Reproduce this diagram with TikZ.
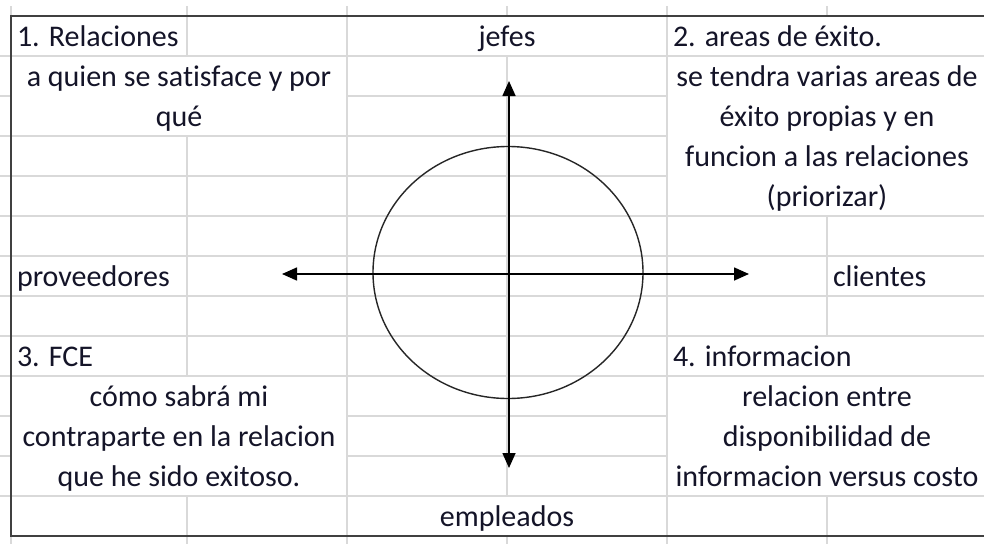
\documentclass[tikz,border=0pt]{standalone}
\usepackage{fontspec}
\setmainfont{Carlito}[Ligatures=NoCommon]
\usetikzlibrary{arrows.meta,shapes.geometric}
\definecolor{gridc}{HTML}{D9D9D9}
\definecolor{borderc}{HTML}{404040}
\definecolor{txtc}{HTML}{141428}
\tikzset{
  grid line/.style={draw=gridc, line width=1.3pt},
  frame line/.style={draw=borderc, line width=2pt},
  cell/.style={inner sep=0pt, outer sep=0pt, text=txtc, font=\fontsize{30}{40}\selectfont},
  lcell/.style={cell, anchor=base west},
  ccell/.style={cell, anchor=base, align=center},
  axis/.style={draw=black, line width=1.6pt, {Triangle[length=15pt,width=13pt]}-{Triangle[length=15pt,width=13pt]}},
  ring/.style={draw=black!85, line width=1.4pt}
}
\begin{document}
\begin{tikzpicture}[x=1pt,y=-1pt]
\useasboundingbox (0,0) rectangle (984,544);
\fill[white] (0,0) rectangle (984,544);
% vertical grid lines
\draw[grid line] (11,6) -- (11,544);
\draw[grid line] (187,6) -- (187,56) (187,136) -- (187,376) (187,496) -- (187,544);
\draw[grid line] (347,6) -- (347,544);
\draw[grid line] (507,6) -- (507,16) (507,56) -- (507,496) (507,536) -- (507,544);
\draw[grid line] (667,6) -- (667,544);
\draw[grid line] (827,6) -- (827,16) (827,216) -- (827,336) (827,496) -- (827,544);
% horizontal grid lines
\draw[grid line] (0,56) -- (984,56);
\draw[grid line] (0,96) -- (11,96) (347,96) -- (667,96);
\draw[grid line] (0,136) -- (667,136);
\draw[grid line] (0,176) -- (667,176);
\foreach \yy in {216,256,296,336,376,496}{\draw[grid line] (0,\yy) -- (984,\yy);}
\draw[grid line] (0,416) -- (11,416) (347,416) -- (667,416);
\draw[grid line] (0,456) -- (11,456) (347,456) -- (667,456);
% frame
\draw[frame line] (984,16) -- (11,16) -- (11,536) -- (984,536);
% texts (multi-line nodes: base anchor is on the last line)
\node[lcell] (t1) at (17,46.5) {1. Relaciones};
\node[ccell] (t1b) at (179,126.5) {a quien se satisface y por\\qué};
\node[ccell] (jefes) at (507,46.5) {jefes};
\node[lcell] (t2) at (673,46.5) {2. areas de éxito.};
\node[ccell] (t2b) at (827,206.5) {se tendra varias areas de\\éxito propias y en\\funcion a las relaciones\\(priorizar)};
\node[lcell] (prov) at (17,286.5) {proveedores};
\node[lcell] (cli) at (833,286.5) {clientes};
\node[lcell] (t3) at (17,366.5) {3. FCE};
\node[ccell] (t3b) at (179,486.5) {cómo sabrá mi\\contraparte en la relacion\\que he sido exitoso.};
\node[lcell] (t4) at (673,366.5) {4. informacion};
\node[ccell] (t4b) at (827,486.5) {relacion entre\\disponibilidad de\\informacion versus costo};
\node[ccell] (emp) at (507,526.5) {empleados};
% circle and axes
\node[ring, ellipse, minimum width=270pt, minimum height=252pt, inner sep=0pt, draw] (circ) at (508,272.5) {};
\coordinate (up) at (509,81);
\coordinate (down) at (509,468);
\coordinate (left) at (282,274);
\coordinate (right) at (749,274);
\draw[axis] (down) -- (up);
\draw[axis] (left) -- (right);
\end{tikzpicture}
\end{document}
